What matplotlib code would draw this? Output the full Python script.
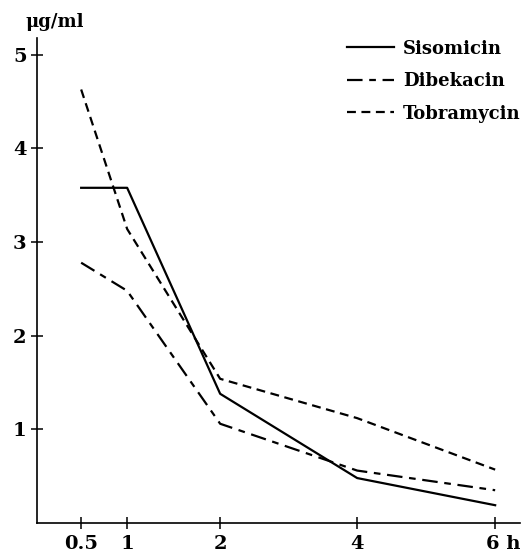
import numpy as np
import matplotlib
matplotlib.use('Agg')
import matplotlib.pyplot as plt
from matplotlib.transforms import ScaledTranslation

# hours after dosing
hours = [0.5, 1, 2, 4, 6]

# serum levels, ug/ml
sisomicin = [3.58, 3.58, 1.38, 0.48, 0.19]
dibekacin = [2.78, 2.48, 1.06, 0.56, 0.35]
tobramycin = [4.63, 3.14, 1.54, 1.12, 0.57]

xtick_vals = [0.5, 1, 2, 4, 6]
xtick_labels = ['0.5', '1', '2', '4', '6 h']
ytick_vals = [1, 2, 3, 4, 5]

# the printed time axis is not evenly spaced, map hours -> paper position
scale_h = [-1, 0, 0.5, 1, 2, 4, 6, 8]
scale_p = [-58, 35, 81, 127, 220, 357, 495, 633]


def fwd(x):
    return np.interp(x, scale_h, scale_p)


def inv(p):
    return np.interp(p, scale_p, scale_h)


plt.rcParams['font.family'] = ['DejaVu Serif']
plt.rcParams['font.weight'] = 'bold'

fig = plt.figure(figsize=(5.27, 5.54), dpi=100)
ax = fig.add_axes([37 / 527, 31 / 554, 483 / 527, 485 / 554])
ax.set_xscale('function', functions=(fwd, inv))

ax.plot(hours, sisomicin, color='black', lw=1.6, ls='-', label='Sisomicin')
ax.plot(hours, dibekacin, color='black', lw=1.6, ls=(0, (7, 3, 3, 3)), label='Dibekacin')
ax.plot(hours, tobramycin, color='black', lw=1.6, ls=(0, (4, 2.5)), label='Tobramycin')

ax.set_xlim(0.02, 6.36)
ax.set_ylim(0, 5.18)

for s in ['top', 'right']:
    ax.spines[s].set_visible(False)
for s in ['left', 'bottom']:
    ax.spines[s].set_linewidth(1.2)

ax.set_xticks(xtick_vals)
ax.set_xticklabels(xtick_labels)
ax.set_yticks(ytick_vals)
ax.xaxis.set_minor_locator(matplotlib.ticker.NullLocator())
ax.tick_params(axis='both', direction='inout', length=9, width=1.1,
               labelsize=14, pad=3)
ax.tick_params(axis='x', pad=4)

# keep the "6" centred on its tick, with the unit trailing
last = ax.get_xticklabels()[-1]
last.set_transform(last.get_transform() + ScaledTranslation(8 / 100, 0, fig.dpi_scale_trans))

fig.text(25 / 527, 1 - 22 / 554, 'μg/ml', fontsize=13, fontweight='bold',
         va='center', ha='left')

ax.legend(loc='upper right', bbox_to_anchor=(1.035, 1.03), frameon=False,
          handlelength=2.6, handletextpad=0.5, labelspacing=0.8,
          prop={'size': 13, 'weight': 'bold'})

fig.savefig('out.png', dpi=100, facecolor='white')
